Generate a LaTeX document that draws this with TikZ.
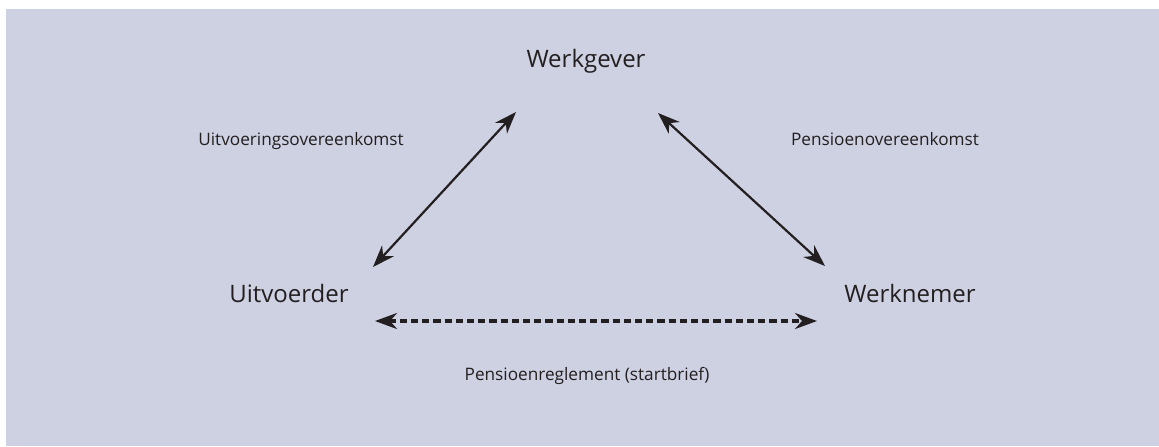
\documentclass[tikz,border=0pt]{standalone}
\usepackage{fontspec}
\setmainfont{Open Sans}
\usepackage{tikz}
\usetikzlibrary{arrows.meta,positioning}
\definecolor{achtergrond}{RGB}{206,209,226}
\definecolor{inkt}{RGB}{35,31,32}
\tikzset{
	partij/.style = {inkt, inner sep=0pt, anchor=base, font=\fontsize{12}{14}\selectfont},% partij in de driehoek
	afspraak/.style = {inkt, inner sep=0pt, anchor=base, font=\fontsize{8.6}{10}\selectfont},% naam van de overeenkomst
	relatie/.style = {inkt, line width=1.1pt, <->},% doorgetrokken pijl
	reglement/.style = {inkt, line width=1.6pt, <->, dash pattern=on 3.6pt off 2pt}% gestippelde pijl
}

\begin{document}
\begin{tikzpicture}[x=0.5pt, y=-0.5pt,
	>={Stealth[length=11pt, width=8pt, inset=3.5pt]}]
\useasboundingbox (0,0) rectangle (1159,446);
\fill[white] (0,0) rectangle (1159,446);
\fill[achtergrond] (6,9) rectangle (1159,446);
% partijen
\node [partij] (werkgever) at (586,67) {Werkgever};
\node [partij] (uitvoerder) at (289,302) {Uitvoerder};
\node [partij] (werknemer) at (910,302) {Werknemer};
% overeenkomsten
\node [afspraak] (uitvoering) at (301,145) {Uitvoeringsovereenkomst};
\node [afspraak] (pensioen) at (885,145) {Pensioenovereenkomst};
\node [afspraak] (startbrief) at (587,380) {Pensioenreglement (startbrief)};
% eindpunten van de pijlen
\coordinate (uitv_boven) at (516,112);
\coordinate (uitv_onder) at (373,267);
\coordinate (werkn_boven) at (658,113);
\coordinate (werkn_onder) at (825,266);
\coordinate (regl_links) at (375,321);
\coordinate (regl_rechts) at (817,321);
\draw [relatie] (uitv_onder) -- (uitv_boven);
\draw [relatie] (werkn_boven) -- (werkn_onder);
\draw [reglement] (regl_links) -- (regl_rechts);
\end{tikzpicture}
\end{document}
